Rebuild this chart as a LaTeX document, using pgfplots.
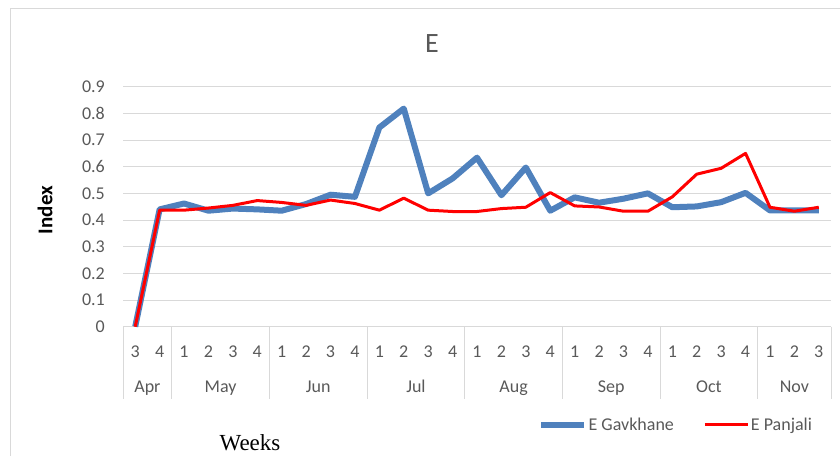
\documentclass[border=0pt]{standalone}
\usepackage{pgfplots}
\pgfplotsset{compat=1.18}
\usepackage{fontspec}
\setmainfont{Carlito}
\newfontfamily\wfont{Liberation Serif}
\definecolor{txt}{HTML}{595959}
\definecolor{gridc}{HTML}{D9D9D9}
\definecolor{eblue}{HTML}{4F81BD}
\definecolor{ered}{HTML}{FF0000}
\begin{document}
\begin{tikzpicture}[x=1pt,y=1pt]
\path[use as bounding box] (0,0) rectangle (840,456);
\draw[gridc, line width=1pt] (10,0) -- (10,447) -- (840,447);
\node[anchor=base, text=txt, font=\fontsize{28}{30}\selectfont, inner sep=0pt] at (432,403) {E};
\node[rotate=90, anchor=center, text=black, font=\fontsize{21}{24}\selectfont\bfseries, inner sep=0pt] at (45,246) {Index};
\node[anchor=base, inner sep=0pt] at (250,6) {\wfont\fontsize{23}{26}\selectfont Weeks};
\begin{axis}[
  at={(123pt,129.3pt)}, anchor=south west,
  scale only axis, width=708pt, height=240pt,
  xmin=-0.5, xmax=28.5, ymin=0, ymax=0.9,
  ytick={0,0.1,0.2,0.3,0.4,0.5,0.6,0.7,0.8,0.9},
  yticklabel style={/pgf/number format/fixed, /pgf/number format/precision=1},
  /pgf/number format/assume math mode=true,
  xtick={0,...,28},
  xticklabels={3,4,1,2,3,4,1,2,3,4,1,2,3,4,1,2,3,4,1,2,3,4,1,2,3,4,1,2,3},
  axis line style={draw=none},
  major tick style={draw=none},
  ymajorgrids, grid style={gridc, line width=1pt},
  ticklabel style={text=txt, font=\fontsize{18}{20}\selectfont, inner sep=0pt},
  yticklabel style={anchor=east, xshift=-18pt},
  xticklabel style={anchor=base, yshift=-31pt},
  clip=false,
  legend style={draw=none, fill=none, at={(rel axis cs:0.586,-0.408)}, anchor=west,
    legend columns=2, font=\fontsize{18}{20}\selectfont, text=txt, inner sep=0pt,
    nodes={inner sep=1.5pt},
    /tikz/every even column/.append style={column sep=28pt}},
  legend cell align=left,
  legend image code/.code={\draw[#1] (0pt,0pt) -- (43pt,0pt);},
]
\addplot[eblue, line width=6pt, line join=round] coordinates {
(0,0) (1,0.44) (2,0.462) (3,0.435) (4,0.443) (5,0.44) (6,0.435) (7,0.46) (8,0.495) (9,0.487)
(10,0.747) (11,0.818) (12,0.5) (13,0.556) (14,0.634) (15,0.493) (16,0.597) (17,0.435)
(18,0.485) (19,0.465) (20,0.48) (21,0.5) (22,0.448) (23,0.451) (24,0.467) (25,0.502)
(26,0.436) (27,0.436) (28,0.436)};
\addlegendentry{E Gavkhane}
\addplot[ered, line width=3pt, line join=round] coordinates {
(0,0) (1,0.437) (2,0.437) (3,0.445) (4,0.455) (5,0.473) (6,0.466) (7,0.455) (8,0.475) (9,0.462)
(10,0.437) (11,0.482) (12,0.437) (13,0.432) (14,0.432) (15,0.443) (16,0.448) (17,0.503)
(18,0.453) (19,0.449) (20,0.433) (21,0.433) (22,0.487) (23,0.572) (24,0.594) (25,0.65)
(26,0.448) (27,0.433) (28,0.448)};
\addlegendentry{E Panjali}
\foreach \xx in {-0.5,1.5,5.5,9.5,13.5,17.5,21.5,25.5,28.5} {
  \edef\tmp{\noexpand\draw[gridc, line width=1pt] (axis cs:\xx,0) -- ++(0pt,-72pt);}\tmp
}
\foreach \xx/\mm in {0.5/Apr,3.5/May,7.5/Jun,11.5/Jul,15.5/Aug,19.5/Sep,23.5/Oct,27/Nov} {
  \edef\tmp{\noexpand\node[anchor=base, text=txt, font=\noexpand\fontsize{18}{20}\noexpand\selectfont, inner sep=0pt, yshift=-66pt] at (axis cs:\xx,0) {\mm};}\tmp
}
\end{axis}
\end{tikzpicture}
\end{document}
